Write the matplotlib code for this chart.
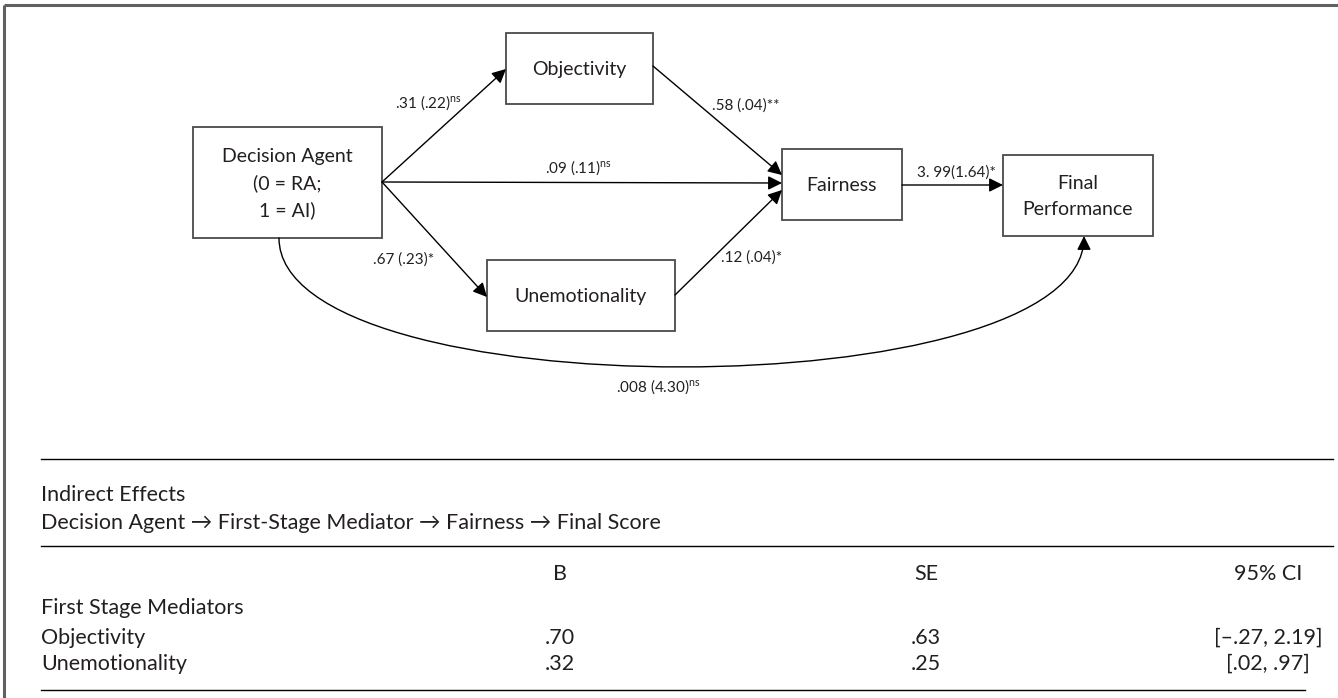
import matplotlib
matplotlib.use("Agg")
import matplotlib.pyplot as plt
from matplotlib.patches import Rectangle, FancyArrowPatch
from matplotlib.path import Path

plt.rcParams["font.family"] = ["Lato", "DejaVu Sans"]
plt.rcParams["mathtext.fontset"] = "custom"
plt.rcParams["mathtext.rm"] = "Lato"
plt.rcParams["mathtext.it"] = "Lato:italic"

# ---- path model -------------------------------------------------------------
node_names = ["agent", "objectivity", "unemotionality", "fairness", "final"]
node_texts = ["Decision Agent\n(0 = RA;\n1 = AI)", "Objectivity", "Unemotionality",
              "Fairness", "Final\nPerformance"]
# box extents in pixel space: left, top, right, bottom
node_boxes = [(193, 127, 382, 238), (506, 33, 653, 104), (487, 260, 675, 331),
              (782, 149, 902, 220), (1003, 155, 1153, 236)]

# path coefficients as reported: estimate (SE) and significance
path_from = ["agent", "agent", "agent", "objectivity", "unemotionality", "fairness", "agent"]
path_to = ["objectivity", "fairness", "unemotionality", "fairness", "fairness", "final", "final"]
path_coef = [".31 (.22)", ".09 (.11)", ".67 (.23)", ".58 (.04)", ".12 (.04)", "3. 99(1.64)", ".008 (4.30)"]
path_sig = ["ns", "ns", "*", "**", "*", "*", "ns"]

# ---- indirect effects table --------------------------------------------------
table_title = "Indirect Effects"
table_chain = "Decision Agent \u2192 First-Stage Mediator \u2192 Fairness \u2192 Final Score"
table_columns = ["B", "SE", "95% CI"]
table_group = "First Stage Mediators"
mediators = ["Objectivity", "Unemotionality"]
effect_b = [".70", ".32"]
effect_se = [".63", ".25"]
ci_low = ["\u2013.27", ".02"]
ci_high = ["2.19", ".97"]

TXT = "#231f20"
TFS = 15.5

fig = plt.figure(figsize=(13.38, 6.98), dpi=100)
ax = fig.add_axes([0, 0, 1, 1])
ax.set_xlim(0, 1338)
ax.set_ylim(698, 0)
ax.axis("off")

# outer frame (top and left edges)
ax.plot([4, 1338], [5, 5], color="#606060", lw=2.2, solid_capstyle="butt")
ax.plot([4, 4], [5, 698], color="#606060", lw=2.2, solid_capstyle="butt")

boxes = dict(zip(node_names, node_boxes))
for name, text in zip(node_names, node_texts):
    l, t, r, b = boxes[name]
    ax.add_patch(Rectangle((l, t), r - l, b - t, fill=False, ec="#4a4a4a", lw=1.3))
    ax.text((l + r) / 2, (t + b) / 2 + 1, text, ha="center", va="center",
            fontsize=14, color=TXT, linespacing=1.6)

# anchor points of each arrow on the boxes
starts = [(382, 182), (382, 182), (382, 182), (653, 66), (675, 295), (902, 185)]
ends = [(506, 69), (782, 183), (487, 297), (782, 175), (782, 190), (1003, 185)]
for (x0, y0), (x1, y1) in zip(starts, ends):
    ax.add_patch(FancyArrowPatch((x0, y0), (x1, y1), arrowstyle="-|>",
                                 mutation_scale=21, lw=1.0, color="black",
                                 shrinkA=0, shrinkB=0))

# direct effect of the agent on final performance (curved)
curve = Path([(279, 238), (279, 410), (1084, 410), (1084, 236)],
             [Path.MOVETO, Path.CURVE4, Path.CURVE4, Path.CURVE4])
ax.add_patch(FancyArrowPatch(path=curve, arrowstyle="-|>", mutation_scale=21,
                             lw=1.0, color="black"))

label_pos = [(428, 103), (578, 168), (404, 260), (746, 106), (752, 258), (956, 173), (658, 387)]
for (x, y), coef, sig in zip(label_pos, path_coef, path_sig):
    if sig == "ns":
        s = coef + r"$^{\mathrm{ns}}$"
    else:
        s = coef + sig
    ax.text(x, y, s, ha="center", va="center", fontsize=11, color=TXT)

# ---- table ------------------------------------------------------------------
L, R = 41, 1333
ax.plot([L, R], [459, 459], color="black", lw=1.0)
ax.text(L, 495, table_title, ha="left", va="center", fontsize=TFS, color=TXT)
ax.text(L, 523, table_chain, ha="left", va="center", fontsize=TFS, color=TXT)
ax.plot([L, R], [546, 546], color="black", lw=1.0)

col_x = [560, 926, 1268]
for x, c in zip(col_x, table_columns):
    ax.text(x, 574, c, ha="center", va="center", fontsize=TFS, color=TXT)
ax.text(L, 608, table_group, ha="left", va="center", fontsize=TFS, color=TXT)
for i, m in enumerate(mediators):
    y = 638 + 26 * i
    ax.text(L, y, m, ha="left", va="center", fontsize=TFS, color=TXT)
    ax.text(col_x[0], y, effect_b[i], ha="center", va="center", fontsize=TFS, color=TXT)
    ax.text(col_x[1], y, effect_se[i], ha="center", va="center", fontsize=TFS, color=TXT)
    ax.text(col_x[2], y, f"[{ci_low[i]}, {ci_high[i]}]", ha="center", va="center",
            fontsize=TFS, color=TXT)
ax.plot([L, 1305], [690, 690], color="black", lw=1.0)

fig.savefig("out.png", dpi=100)
